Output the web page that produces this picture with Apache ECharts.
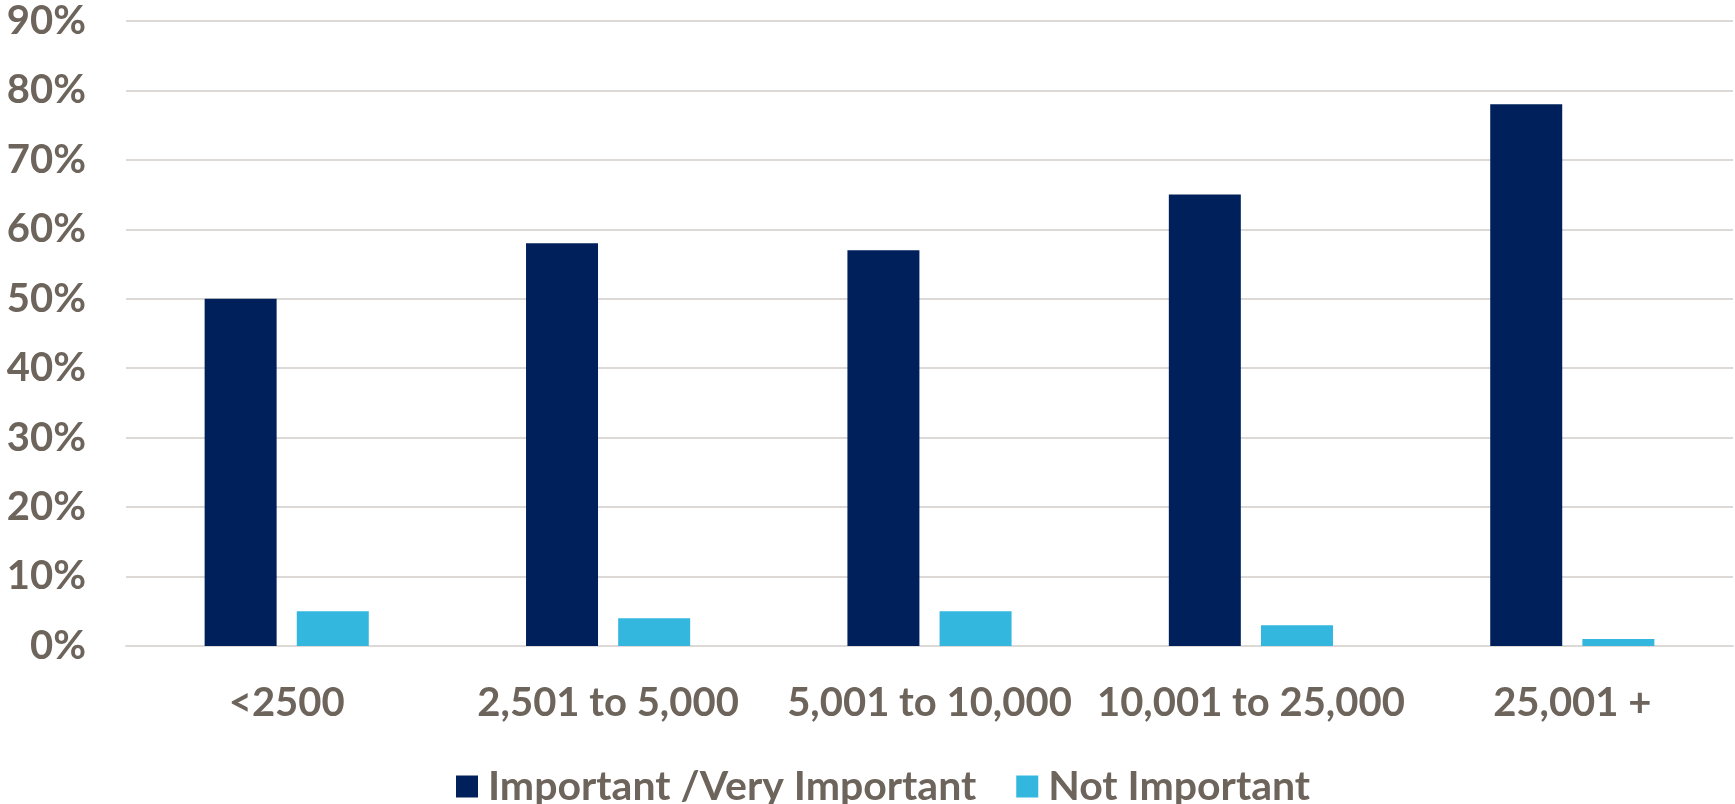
<!DOCTYPE html>
<html><head><meta charset="utf-8">
<script src="https://cdn.jsdelivr.net/npm/echarts@6/dist/echarts.min.js"></script>
<style>html,body{margin:0;padding:0;background:#fff}#c{width:1735px;height:804px}</style>
</head><body><div id="c"></div>
<script>
const categories = ['<2500', '2,501 to 5,000', '5,001 to 10,000', '10,001 to 25,000', '25,001 +'];
const important = [50, 58, 57, 65, 78];
const notImportant = [5, 4, 5, 3, 1];
const seriesNames = ['Important /Very Important', 'Not Important'];

const txt = '#6D645C';
const font = 'Lato';
const chart = echarts.init(document.getElementById('c'));
chart.setOption({
  animation: false,
  backgroundColor: '#fff',
  grid: { left: 126, right: 2, top: 21, bottom: 158, containLabel: false },
  legend: {
    data: seriesNames,
    left: 451, top: 761,
    itemWidth: 22, itemHeight: 22, itemGap: 40,
    icon: 'rect',
    textStyle: { color: txt, fontFamily: font, fontWeight: 'bold', fontSize: 41, padding: [0, 0, 0, 5] }
  },
  xAxis: {
    type: 'category', data: categories,
    axisLine: { show: true, lineStyle: { color: '#DDD9D6', width: 2 } },
    axisTick: { show: false },
    axisLabel: { color: txt, fontFamily: font, fontWeight: 'bold', fontSize: 40, margin: 37, interval: 0 }
  },
  yAxis: {
    type: 'value', min: 0, max: 90, interval: 10,
    axisLine: { show: false }, axisTick: { show: false },
    splitLine: { lineStyle: { color: '#DDD9D6', width: 2 } },
    axisLabel: { color: txt, fontFamily: font, fontWeight: 'bold', fontSize: 40, margin: 40, formatter: '{value}%' }
  },
  series: [
    { name: seriesNames[0], type: 'bar', data: important, barWidth: '22.4%', barGap: '28%', itemStyle: { color: '#00205B' } },
    { name: seriesNames[1], type: 'bar', data: notImportant, barWidth: '22.4%', itemStyle: { color: '#33B7DE' } }
  ]
});
</script></body></html>
